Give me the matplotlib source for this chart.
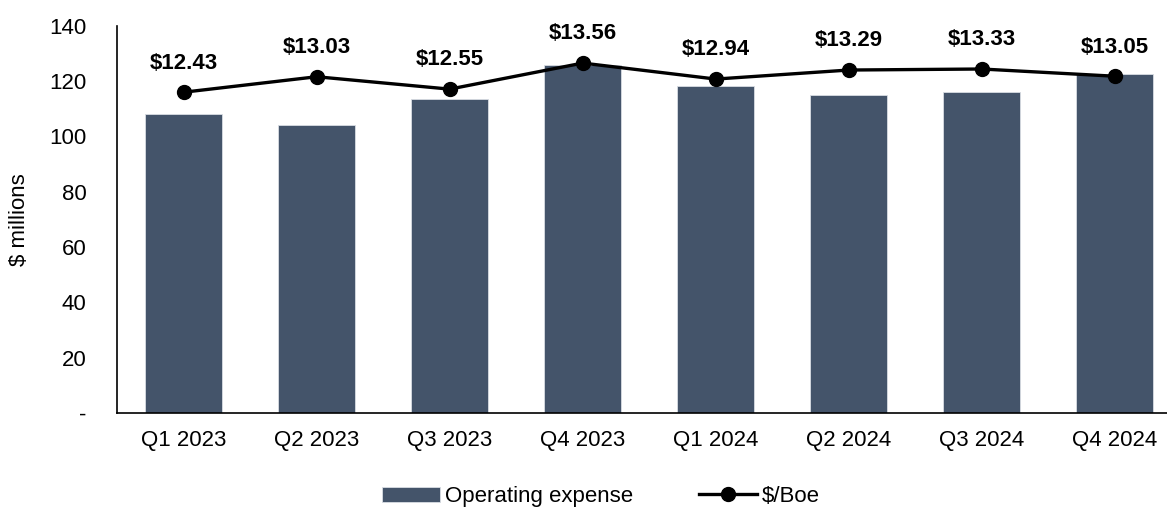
import matplotlib
matplotlib.use("Agg")
import matplotlib.pyplot as plt
import numpy as np

quarters = ["Q1 2023", "Q2 2023", "Q3 2023", "Q4 2023", "Q1 2024", "Q2 2024", "Q3 2024", "Q4 2024"]
opex = [108.3, 104.0, 113.4, 125.9, 118.4, 115.1, 116.0, 122.5]   # $ millions
per_boe = [12.43, 13.03, 12.55, 13.56, 12.94, 13.29, 13.33, 13.05]

BAR_COLOR = "#44546A"
plt.rcParams["font.family"] = ["Liberation Sans Narrow", "Liberation Sans", "DejaVu Sans"]

fig = plt.figure(figsize=(11.67, 5.12), dpi=100)
ax = fig.add_axes([0.1003, 0.1934, 0.912, 0.756])
x = np.arange(len(quarters))
bars = ax.bar(x, opex, width=0.58, color=BAR_COLOR, edgecolor="#D9DDE3", linewidth=0.6,
              label="Operating expense", zorder=2)
ax.set_xlim(-0.5, 7.5); ax.set_ylim(0, 140)
ax.set_yticks(np.arange(0, 141, 20))
ax.set_yticklabels(["-"] + [str(v) for v in range(20, 141, 20)])
ax.set_xticks(x); ax.set_xticklabels(quarters)
ax.tick_params(axis="y", length=0, pad=22, labelsize=16)
ax.tick_params(axis="x", length=0, pad=12, labelsize=16)
for s in ["top", "right"]:
    ax.spines[s].set_visible(False)
for s in ["left", "bottom"]:
    ax.spines[s].set_linewidth(1.2)
ax.set_ylabel("$ millions", fontsize=16, labelpad=14)

ax2 = ax.twinx()
ax2.set_ylim(0, 15)
line, = ax2.plot(x, per_boe, color="black", lw=2.4, marker="o", markersize=10, label="$/Boe", zorder=3)
ax2.axis("off")
for xi, v in zip(x, per_boe):
    ax2.annotate(f"${v:.2f}", (xi, v), xytext=(0, 21), textcoords="offset points",
                 ha="center", va="center", fontsize=16, fontweight="bold")

fig.legend([bars, line], ["Operating expense", "$/Boe"], loc="center", bbox_to_anchor=(0.515, 0.03),
           ncol=2, frameon=False, fontsize=16, handlelength=2.6, handletextpad=0.2, columnspacing=3.0)
fig.savefig("out.png", dpi=100)
